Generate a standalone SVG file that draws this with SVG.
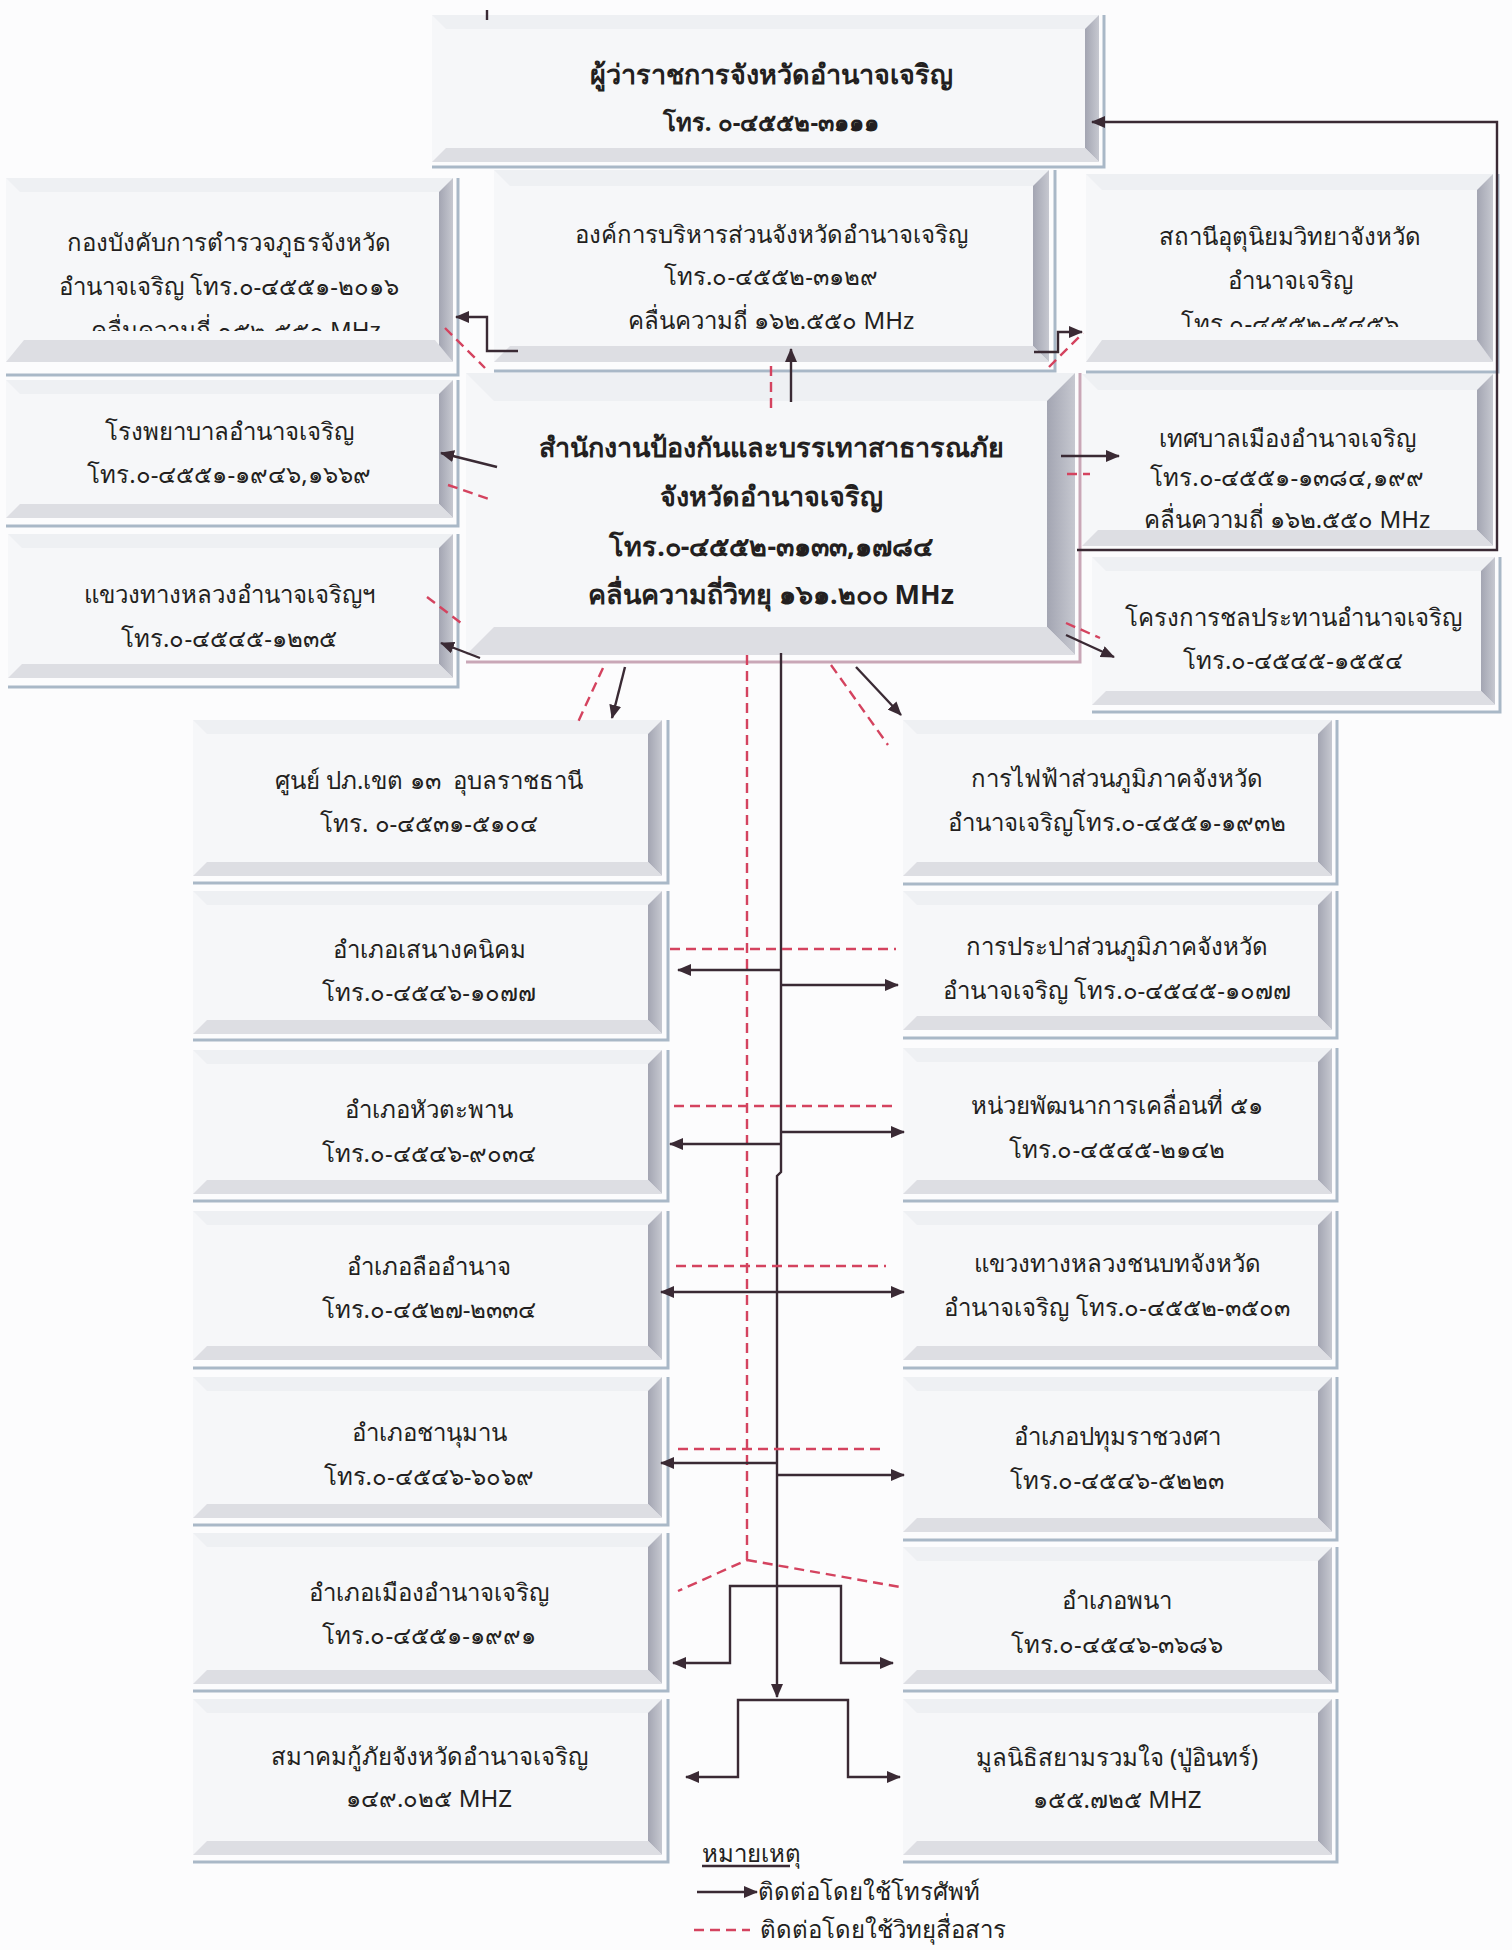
<svg xmlns="http://www.w3.org/2000/svg" width="1512" height="1950" viewBox="0 0 1512 1950">
<style>
.bg{fill:#fcfcfd}
.face{fill:#f6f7f9}
.bt{fill:#eef0f3}
.br{fill:url(#gbr)}
.bb{fill:#dddee3}
.ln{stroke:#a9b8c7;stroke-width:3;fill:none}
.lp{stroke:#c9a7b7;stroke-width:3;fill:none}
.t{font-family:"Noto Sans","DejaVu Sans",sans-serif;font-size:24px;fill:#231f20;text-anchor:middle}
.b{font-weight:bold}
.big{font-size:27px}
.ph{stroke:#3a2a34;stroke-width:2.4;fill:none}
.pa{stroke:#3a2a34;stroke-width:2.4;fill:none;marker-end:url(#ah)}
.rd{stroke:#d4435f;stroke-width:2.4;stroke-dasharray:10 6;fill:none}
.lg{font-family:"Noto Sans","DejaVu Sans",sans-serif;font-size:24px;fill:#231f20}
</style>
<defs>
<linearGradient id="gbr" x1="0" y1="0" x2="1" y2="0">
<stop offset="0" stop-color="#a3a5b2"/>
<stop offset="1" stop-color="#c6c8d0"/>
</linearGradient>
<marker id="ah" viewBox="0 0 14 12" refX="13" refY="6" markerWidth="14" markerHeight="12" markerUnits="userSpaceOnUse" orient="auto">
<path d="M0,0 L14,6 L0,12 Z" fill="#3a2a34"/>
</marker>
<clipPath id="clipP"><rect x="0" y="178" width="458" height="153"/></clipPath>
<clipPath id="clipR"><rect x="1086" y="174" width="412" height="153"/></clipPath>
</defs>
<rect class="bg" x="0" y="0" width="1512" height="1950"/>

<g id="governor">
<rect class="face" x="432" y="15" width="667" height="147"/>
<path class="bt" d="M432,15 H1099 L1085,29 H446 Z"/>
<path class="br" d="M1099,15 V162 L1085,148 V29 Z"/>
<path class="bb" d="M432,162 H1099 L1085,148 H446 Z"/>
<path class="ln" d="M1104,15 V167 H432"/>
<text class="t b big" x="771" y="84">ผู้ว่าราชการจังหวัดอำนาจเจริญ</text>
<text class="t b" x="771" y="131">โทร. ๐-๔๕๕๒-๓๑๑๑</text>
</g>

<g id="police">
<rect class="face" x="6" y="178" width="447" height="184"/>
<path class="bt" d="M6,178 H453 L439,192 H20 Z"/>
<path class="br" d="M453,178 V362 L439,348 V192 Z"/>
<path class="bb" d="M6,362 H453 L435,340 H24 Z"/>
<path class="ln" d="M458,178 V375 H6"/>
<g clip-path="url(#clipP)">
<text class="t" x="229" y="251">กองบังคับการตำรวจภูธรจังหวัด</text>
<text class="t" x="229" y="295">อำนาจเจริญ โทร.๐-๔๕๕๑-๒๐๑๖</text>
<text class="t" x="236" y="339">คลื่นความถี่ ๑๕๒.๕๕๐ MHz</text>
</g>
</g>

<g id="obj">
<rect class="face" x="494" y="170" width="555" height="192"/>
<path class="bt" d="M494,170 H1049 L1033,186 H510 Z"/>
<path class="br" d="M1049,170 V362 L1033,346 V186 Z"/>
<path class="bb" d="M494,362 H1049 L1033,346 H510 Z"/>
<path class="ln" d="M1055,170 V371 H494"/>
<text class="t" x="771" y="243">องค์การบริหารส่วนจังหวัดอำนาจเจริญ</text>
<text class="t" x="771" y="285">โทร.๐-๔๕๕๒-๓๑๒๙</text>
<text class="t" x="771" y="329">คลื่นความถี่ ๑๖๒.๕๕๐ MHz</text>
</g>

<g id="weather">
<rect class="face" x="1086" y="174" width="407" height="188"/>
<path class="bt" d="M1086,174 H1493 L1477,190 H1102 Z"/>
<path class="br" d="M1493,174 V362 L1477,346 V190 Z"/>
<path class="bb" d="M1086,362 H1493 L1477,340 H1102 Z"/>
<path class="ln" d="M1498,174 V372 H1086"/>
<g clip-path="url(#clipR)">
<text class="t" x="1290" y="245">สถานีอุตุนิยมวิทยาจังหวัด</text>
<text class="t" x="1290" y="289">อำนาจเจริญ</text>
<text class="t" x="1290" y="332">โทร.๐-๔๕๕๒-๕๔๕๖</text>
</g>
</g>

<g id="hospital">
<rect class="face" x="6" y="380" width="447" height="138"/>
<path class="bt" d="M6,380 H453 L439,394 H20 Z"/>
<path class="br" d="M453,380 V518 L439,504 V394 Z"/>
<path class="bb" d="M6,518 H453 L439,504 H20 Z"/>
<path class="ln" d="M458,380 V526 H6"/>
<text class="t" x="229" y="440">โรงพยาบาลอำนาจเจริญ</text>
<text class="t" x="229" y="483">โทร.๐-๔๕๕๑-๑๙๔๖,๑๖๖๙</text>
</g>

<g id="highway">
<rect class="face" x="8" y="534" width="445" height="144"/>
<path class="bt" d="M8,534 H453 L439,548 H22 Z"/>
<path class="br" d="M453,534 V678 L439,664 V548 Z"/>
<path class="bb" d="M8,678 H453 L439,664 H22 Z"/>
<path class="ln" d="M458,534 V687 H8"/>
<text class="t" x="229" y="603">แขวงทางหลวงอำนาจเจริญฯ</text>
<text class="t" x="229" y="647">โทร.๐-๔๕๔๕-๑๒๓๕</text>
</g>

<g id="municipality">
<rect class="face" x="1082" y="374" width="411" height="172"/>
<path class="bt" d="M1082,374 H1493 L1477,390 H1098 Z"/>
<path class="br" d="M1493,374 V546 L1477,530 V390 Z"/>
<path class="bb" d="M1082,546 H1493 L1477,530 H1098 Z"/>
<text class="t" x="1287" y="447">เทศบาลเมืองอำนาจเจริญ</text>
<text class="t" x="1287" y="486">โทร.๐-๔๕๕๑-๑๓๘๔,๑๙๙</text>
<text class="t" x="1287" y="528">คลื่นความถี่ ๑๖๒.๕๕๐ MHz</text>
</g>

<g id="irrigation">
<rect class="face" x="1092" y="557" width="403" height="148"/>
<path class="bt" d="M1092,557 H1495 L1481,571 H1106 Z"/>
<path class="br" d="M1495,557 V705 L1481,691 V571 Z"/>
<path class="bb" d="M1092,705 H1495 L1481,691 H1106 Z"/>
<path class="ln" d="M1500,557 V712 H1092"/>
<text class="t" x="1293" y="626">โครงการชลประทานอำนาจเจริญ</text>
<text class="t" x="1293" y="669">โทร.๐-๔๕๔๕-๑๕๕๔</text>
</g>

<g id="center">
<rect class="face" x="466" y="373" width="609" height="282"/>
<path class="bt" d="M466,373 H1075 L1047,401 H494 Z"/>
<path class="br" d="M1075,373 V655 L1047,627 V401 Z"/>
<path class="bb" d="M466,655 H1075 L1047,627 H494 Z"/>
<path class="lp" d="M1080,373 V662 H466"/>
<text class="t b big" x="771" y="457">สำนักงานป้องกันและบรรเทาสาธารณภัย</text>
<text class="t b big" x="771" y="506">จังหวัดอำนาจเจริญ</text>
<text class="t b big" x="771" y="556">โทร.๐-๔๕๕๒-๓๑๓๓,๑๗๘๔</text>
<text class="t b big" x="771" y="604">คลื่นความถี่วิทยุ ๑๖๑.๒๐๐ MHz</text>
</g>

<g id="dpm13">
<rect class="face" x="193" y="720" width="469" height="156"/>
<path class="bt" d="M193,720 H662 L648,734 H207 Z"/>
<path class="br" d="M662,720 V876 L648,862 V734 Z"/>
<path class="bb" d="M193,876 H662 L648,862 H207 Z"/>
<path class="ln" d="M668,720 V883 H193"/>
<text class="t" x="429" y="789" style="white-space:pre">ศูนย์ ปภ.เขต ๑๓  อุบลราชธานี</text>
<text class="t" x="429" y="832">โทร. ๐-๔๕๓๑-๕๑๐๔</text>
</g>

<g id="senangkhanikhom">
<rect class="face" x="193" y="891" width="469" height="143"/>
<path class="bt" d="M193,891 H662 L648,905 H207 Z"/>
<path class="br" d="M662,891 V1034 L648,1020 V905 Z"/>
<path class="bb" d="M193,1034 H662 L648,1020 H207 Z"/>
<path class="ln" d="M668,891 V1040 H193"/>
<text class="t" x="429" y="958">อำเภอเสนางคนิคม</text>
<text class="t" x="429" y="1001">โทร.๐-๔๕๔๖-๑๐๗๗</text>
</g>

<g id="huataphan">
<rect class="face" x="193" y="1050" width="469" height="144"/>
<path class="bt" d="M193,1050 H662 L648,1064 H207 Z"/>
<path class="br" d="M662,1050 V1194 L648,1180 V1064 Z"/>
<path class="bb" d="M193,1194 H662 L648,1180 H207 Z"/>
<path class="ln" d="M668,1050 V1201 H193"/>
<text class="t" x="429" y="1118">อำเภอหัวตะพาน</text>
<text class="t" x="429" y="1162">โทร.๐-๔๕๔๖-๙๐๓๔</text>
</g>

<g id="lueamnat">
<rect class="face" x="193" y="1211" width="469" height="149"/>
<path class="bt" d="M193,1211 H662 L648,1225 H207 Z"/>
<path class="br" d="M662,1211 V1360 L648,1346 V1225 Z"/>
<path class="bb" d="M193,1360 H662 L648,1346 H207 Z"/>
<path class="ln" d="M668,1211 V1368 H193"/>
<text class="t" x="429" y="1275">อำเภอลืออำนาจ</text>
<text class="t" x="429" y="1318">โทร.๐-๔๕๒๗-๒๓๓๔</text>
</g>

<g id="chanuman">
<rect class="face" x="193" y="1377" width="469" height="141"/>
<path class="bt" d="M193,1377 H662 L648,1391 H207 Z"/>
<path class="br" d="M662,1377 V1518 L648,1504 V1391 Z"/>
<path class="bb" d="M193,1518 H662 L648,1504 H207 Z"/>
<path class="ln" d="M668,1377 V1525 H193"/>
<text class="t" x="429" y="1441">อำเภอชานุมาน</text>
<text class="t" x="429" y="1485">โทร.๐-๔๕๔๖-๖๐๖๙</text>
</g>

<g id="mueang">
<rect class="face" x="193" y="1533" width="469" height="151"/>
<path class="bt" d="M193,1533 H662 L648,1547 H207 Z"/>
<path class="br" d="M662,1533 V1684 L648,1670 V1547 Z"/>
<path class="bb" d="M193,1684 H662 L648,1670 H207 Z"/>
<path class="ln" d="M668,1533 V1691 H193"/>
<text class="t" x="429" y="1601">อำเภอเมืองอำนาจเจริญ</text>
<text class="t" x="429" y="1644">โทร.๐-๔๕๕๑-๑๙๙๑</text>
</g>

<g id="rescue">
<rect class="face" x="193" y="1699" width="469" height="156"/>
<path class="bt" d="M193,1699 H662 L648,1713 H207 Z"/>
<path class="br" d="M662,1699 V1855 L648,1841 V1713 Z"/>
<path class="bb" d="M193,1855 H662 L648,1841 H207 Z"/>
<path class="ln" d="M668,1699 V1862 H193"/>
<text class="t" x="429" y="1765">สมาคมกู้ภัยจังหวัดอำนาจเจริญ</text>
<text class="t" x="429" y="1807">๑๔๙.๐๒๕ MHZ</text>
</g>

<g id="electricity">
<rect class="face" x="903" y="720" width="429" height="156"/>
<path class="bt" d="M903,720 H1332 L1318,734 H917 Z"/>
<path class="br" d="M1332,720 V876 L1318,862 V734 Z"/>
<path class="bb" d="M903,876 H1332 L1318,862 H917 Z"/>
<path class="ln" d="M1337,720 V884 H903"/>
<text class="t" x="1117" y="787">การไฟฟ้าส่วนภูมิภาคจังหวัด</text>
<text class="t" x="1117" y="831">อำนาจเจริญโทร.๐-๔๕๕๑-๑๙๓๒</text>
</g>

<g id="waterworks">
<rect class="face" x="903" y="891" width="429" height="139"/>
<path class="bt" d="M903,891 H1332 L1318,905 H917 Z"/>
<path class="br" d="M1332,891 V1030 L1318,1016 V905 Z"/>
<path class="bb" d="M903,1030 H1332 L1318,1016 H917 Z"/>
<path class="ln" d="M1337,891 V1038 H903"/>
<text class="t" x="1117" y="955">การประปาส่วนภูมิภาคจังหวัด</text>
<text class="t" x="1117" y="999">อำนาจเจริญ โทร.๐-๔๕๔๕-๑๐๗๗</text>
</g>

<g id="mobiledev">
<rect class="face" x="903" y="1048" width="429" height="146"/>
<path class="bt" d="M903,1048 H1332 L1318,1062 H917 Z"/>
<path class="br" d="M1332,1048 V1194 L1318,1180 V1062 Z"/>
<path class="bb" d="M903,1194 H1332 L1318,1180 H917 Z"/>
<path class="ln" d="M1337,1048 V1201 H903"/>
<text class="t" x="1117" y="1114">หน่วยพัฒนาการเคลื่อนที่ ๕๑</text>
<text class="t" x="1117" y="1158">โทร.๐-๔๕๔๕-๒๑๔๒</text>
</g>

<g id="ruralroads">
<rect class="face" x="903" y="1211" width="429" height="149"/>
<path class="bt" d="M903,1211 H1332 L1318,1225 H917 Z"/>
<path class="br" d="M1332,1211 V1360 L1318,1346 V1225 Z"/>
<path class="bb" d="M903,1360 H1332 L1318,1346 H917 Z"/>
<path class="ln" d="M1337,1211 V1368 H903"/>
<text class="t" x="1117" y="1272">แขวงทางหลวงชนบทจังหวัด</text>
<text class="t" x="1117" y="1316">อำนาจเจริญ โทร.๐-๔๕๕๒-๓๕๐๓</text>
</g>

<g id="pathum">
<rect class="face" x="903" y="1377" width="429" height="155"/>
<path class="bt" d="M903,1377 H1332 L1318,1391 H917 Z"/>
<path class="br" d="M1332,1377 V1532 L1318,1518 V1391 Z"/>
<path class="bb" d="M903,1532 H1332 L1318,1518 H917 Z"/>
<path class="ln" d="M1337,1377 V1540 H903"/>
<text class="t" x="1117" y="1445">อำเภอปทุมราชวงศา</text>
<text class="t" x="1117" y="1489">โทร.๐-๔๕๔๖-๕๒๒๓</text>
</g>

<g id="phana">
<rect class="face" x="903" y="1547" width="429" height="137"/>
<path class="bt" d="M903,1547 H1332 L1318,1561 H917 Z"/>
<path class="br" d="M1332,1547 V1684 L1318,1670 V1561 Z"/>
<path class="bb" d="M903,1684 H1332 L1318,1670 H917 Z"/>
<path class="ln" d="M1337,1547 V1691 H903"/>
<text class="t" x="1117" y="1609">อำเภอพนา</text>
<text class="t" x="1117" y="1653">โทร.๐-๔๕๔๖-๓๖๘๖</text>
</g>

<g id="foundation">
<rect class="face" x="903" y="1699" width="429" height="156"/>
<path class="bt" d="M903,1699 H1332 L1318,1713 H917 Z"/>
<path class="br" d="M1332,1699 V1855 L1318,1841 V1713 Z"/>
<path class="bb" d="M903,1855 H1332 L1318,1841 H917 Z"/>
<path class="ln" d="M1337,1699 V1862 H903"/>
<text class="t" x="1117" y="1766">มูลนิธิสยามรวมใจ (ปู่อินทร์)</text>
<text class="t" x="1117" y="1808">๑๕๕.๗๒๕ MHZ</text>
</g>

<g id="connectors">
<path class="ph" d="M487,10 V20"/>
<path class="pa" d="M1077,550 H1497 V122 H1092"/>
<path class="pa" d="M791,402 V349"/>
<path class="rd" d="M771,408 V360"/>
<path class="pa" d="M518,351 H487 V317 H456"/>
<path class="rd" d="M445,328 L485,368"/>
<path class="pa" d="M1034,352 H1058 V332 H1082"/>
<path class="rd" d="M1049,367 L1083,333"/>
<path class="pa" d="M497,467 L441,453"/>
<path class="rd" d="M448,485 L492,500"/>
<path class="pa" d="M480,658 L441,643"/>
<path class="rd" d="M427,597 L461,623"/>
<path class="pa" d="M1061,456 H1119"/>
<path class="rd" d="M1067,474 H1090"/>
<path class="pa" d="M1066,635 L1114,657"/>
<path class="rd" d="M1066,623 L1100,638"/>
<path class="pa" d="M625,667 L612,718"/>
<path class="rd" d="M603,668 L578,722"/>
<path class="pa" d="M856,667 L901,715"/>
<path class="rd" d="M831,665 L888,745"/>
<path class="pa" d="M781,653 V1172 L777,1176 V1697"/>
<path class="rd" d="M747,655 V1560 L678,1591 M747,1560 L900,1587"/>
<path class="rd" d="M670,949 H896"/>
<path class="pa" d="M781,970 H678"/>
<path class="pa" d="M781,985 H898"/>
<path class="rd" d="M674,1106 H892"/>
<path class="pa" d="M781,1144 H670"/>
<path class="pa" d="M781,1132 H904"/>
<path class="rd" d="M676,1266 H886"/>
<path class="pa" d="M779,1292 H661"/>
<path class="pa" d="M779,1292 H904"/>
<path class="rd" d="M678,1449 H886"/>
<path class="pa" d="M777,1463 H661"/>
<path class="pa" d="M777,1475 H904"/>
<path class="pa" d="M777,1586 H730 V1663 H673"/>
<path class="pa" d="M777,1586 H841 V1663 H893"/>
<path class="pa" d="M793,1700 H738 V1777 H686"/>
<path class="pa" d="M793,1700 H848 V1777 H900"/>
</g>

<g id="legend">
<text class="lg" x="702" y="1862">หมายเหตุ</text>
<path class="ph" d="M702,1866 H790" stroke-width="1.6"/>
<path class="pa" d="M697,1892 H757"/>
<text class="lg" x="758" y="1900">ติดต่อโดยใช้โทรศัพท์</text>
<path class="rd" d="M694,1930 H750"/>
<text class="lg" x="760" y="1938">ติดต่อโดยใช้วิทยุสื่อสาร</text>
</g>
</svg>
